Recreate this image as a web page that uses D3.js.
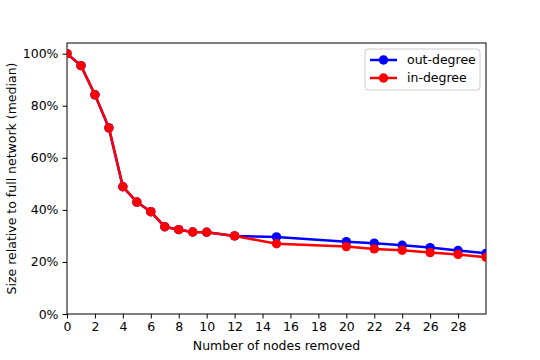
<!DOCTYPE html>
<html>
<head>
<meta charset="utf-8">
<script src="https://cdn.jsdelivr.net/npm/d3@7"></script>
<style>
  body { margin: 0; background: #fff; }
  text { font-family: "DejaVu Sans", sans-serif; }
</style>
</head>
<body>
<div id="chart"></div>
<script>
// nodes removed (x) and relative size, in %
const nodesRemoved = [0, 1, 2, 3, 4, 5, 6, 7, 8, 9, 10, 12, 15, 20, 22, 24, 26, 28, 30];
const outDegree = [100, 95.4, 84.2, 71.5, 48.9, 43.0, 39.3, 33.5, 32.4, 31.5, 31.4, 30.0, 29.6, 27.8, 27.2, 26.4, 25.5, 24.4, 23.3];
const inDegree  = [100, 95.4, 84.2, 71.5, 48.9, 43.0, 39.3, 33.5, 32.4, 31.5, 31.4, 30.0, 27.0, 25.9, 25.0, 24.5, 23.6, 22.9, 21.8];
const xTicks = [0, 2, 4, 6, 8, 10, 12, 14, 16, 18, 20, 22, 24, 26, 28];
const yTicks = [0, 20, 40, 60, 80, 100];

const series = [
  { name: "out-degree", color: "#0000ff", values: outDegree },
  { name: "in-degree", color: "#ff0000", values: inDegree }
];

const width = 540, height = 360;
const margin = { left: 67, right: 54, top: 43, bottom: 46 };

const svg = d3.select("#chart").append("svg")
  .attr("width", width)
  .attr("height", height);

const x = d3.scaleLinear().domain([0, 30]).range([margin.left, width - margin.right]);
const y = d3.scaleLinear().domain([0, 104.1]).range([height - margin.bottom, margin.top]);

// axes
svg.append("g")
  .attr("transform", `translate(0,${height - margin.bottom})`)
  .call(d3.axisBottom(x).tickValues(xTicks).tickSize(4.5).tickPadding(4).tickFormat(d3.format("d")))
  .call(g => g.select(".domain").remove())
  .call(g => g.selectAll("text").attr("font-size", 12.5).attr("fill", "#000"));

svg.append("g")
  .attr("transform", `translate(${margin.left},0)`)
  .call(d3.axisLeft(y).tickValues(yTicks).tickSize(4.5).tickPadding(4).tickFormat(d => d + "%"))
  .call(g => g.select(".domain").remove())
  .call(g => g.selectAll("text").attr("font-size", 12.5).attr("fill", "#000"));

// frame
svg.append("rect")
  .attr("x", margin.left)
  .attr("y", margin.top)
  .attr("width", width - margin.left - margin.right)
  .attr("height", height - margin.top - margin.bottom)
  .attr("fill", "none")
  .attr("stroke", "#000")
  .attr("stroke-width", 1);

// clip so that markers at the edge get cut like matplotlib
svg.append("clipPath").attr("id", "clip")
  .append("rect")
  .attr("x", margin.left)
  .attr("y", margin.top)
  .attr("width", width - margin.left - margin.right)
  .attr("height", height - margin.top - margin.bottom);

const plot = svg.append("g").attr("clip-path", "url(#clip)");

const line = d3.line()
  .x((d, i) => x(nodesRemoved[i]))
  .y(d => y(d));

series.forEach(s => {
  const g = plot.append("g");
  g.append("path")
    .datum(s.values)
    .attr("d", line)
    .attr("fill", "none")
    .attr("stroke", s.color)
    .attr("stroke-width", 2.5)
    .attr("stroke-linejoin", "round");
  g.selectAll("circle")
    .data(s.values)
    .join("circle")
    .attr("cx", (d, i) => x(nodesRemoved[i]))
    .attr("cy", d => y(d))
    .attr("r", 4.7)
    .attr("fill", s.color);
});

// axis titles
svg.append("text")
  .attr("x", (margin.left + width - margin.right) / 2)
  .attr("y", 350)
  .attr("text-anchor", "middle")
  .attr("font-size", 12.5)
  .text("Number of nodes removed");

svg.append("text")
  .attr("transform", `translate(16,${(margin.top + height - margin.bottom) / 2}) rotate(-90)`)
  .attr("text-anchor", "middle")
  .attr("font-size", 12.5)
  .text("Size relative to full network (median)");

// legend
const legend = svg.append("g").attr("transform", "translate(365,49)");
legend.append("rect")
  .attr("width", 115)
  .attr("height", 41)
  .attr("rx", 3)
  .attr("fill", "#fff")
  .attr("fill-opacity", 0.8)
  .attr("stroke", "#ccc")
  .attr("stroke-width", 1);

series.forEach((s, i) => {
  const row = legend.append("g").attr("transform", `translate(0,${11 + i * 18})`);
  row.append("line")
    .attr("x1", 5).attr("x2", 32)
    .attr("stroke", s.color)
    .attr("stroke-width", 2.5);
  row.append("circle")
    .attr("cx", 18.5)
    .attr("r", 4.7)
    .attr("fill", s.color);
  row.append("text")
    .attr("x", 42)
    .attr("dy", "0.35em")
    .attr("font-size", 12.5)
    .text(s.name);
});
</script>
</body>
</html>
